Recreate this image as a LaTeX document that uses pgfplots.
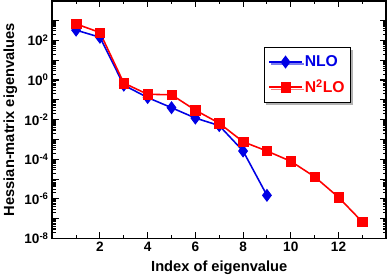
\documentclass[border=0pt]{standalone}
\usepackage{fontspec}
\setmainfont{Liberation Sans}
\usepackage{pgfplots}
\pgfplotsset{compat=1.18}
\usetikzlibrary{shadows}
\begin{document}
\begin{tikzpicture}
\begin{axis}[
  scale only axis,
  width=319pt, height=227pt,
  ymode=log,
  xmin=0, xmax=14, ymin=1e-8, ymax=1e4,
  xtick={2,4,...,12},
  minor xtick={1,3,...,13},
  ytick={1e-8,1e-7,1e-6,1e-5,1e-4,1e-3,1e-2,1e-1,1,1e1,1e2,1e3},
  yticklabels={10\textsuperscript{-8},{},10\textsuperscript{-6},{},10\textsuperscript{-4},{},10\textsuperscript{-2},{},10\textsuperscript{0},{},10\textsuperscript{2},{}},
  tick align=inside,
  xtick pos=both, ytick pos=both,
  xticklabel pos=lower, yticklabel pos=left,
  major tick length=6pt, minor tick length=3.5pt,
  every tick/.style={black, line width=1pt},
  axis line style={line width=1.5pt},
  /pgf/number format/assume math mode=true,
  ticklabel style={font=\fontsize{13}{13}\selectfont\bfseries},
  xlabel={Index of eigenvalue},
  ylabel={Hessian-matrix eigenvalues},
  label style={font=\fontsize{14}{14}\selectfont\bfseries},
  xlabel style={yshift=-2pt},
  legend style={at={(0.633,0.806)}, anchor=north west, draw=black, line width=1pt,
    drop shadow={shadow xshift=2pt, shadow yshift=-2pt, fill=black!60},
    font=\fontsize{15}{15}\selectfont\bfseries, fill=white,
    row sep=7pt, inner xsep=4pt, inner ysep=6pt},
  legend cell align=left,
  legend image code/.code={\draw[mark repeat=2,mark phase=2,#1] plot coordinates {(0cm,0cm) (0.55cm,0cm) (1.1cm,0cm)};},
]
\addplot[blue!90!black, line width=1.5pt, mark=diamond*, mark size=5.5pt, mark options={fill=blue!90!black, line width=1pt}]
coordinates {(1,330) (2,144) (3,0.55) (4,0.13) (5,0.04) (6,0.012) (7,0.005) (8,2.6e-4) (9,1.5e-6)};
\addlegendentry{\textcolor{blue!90!black}{NLO}}
\addplot[red, line width=1.5pt, mark=square*, mark size=4.5pt, mark options={fill=red, line width=0.5pt}]
coordinates {(1,680) (2,250) (3,0.7) (4,0.19) (5,0.18) (6,0.03) (7,0.0066) (8,7.6e-4) (9,2.6e-4) (10,7.9e-5) (11,1.3e-5) (12,1.2e-6) (13,6.8e-8)};
\addlegendentry{\textcolor{red}{N\textsuperscript{2}LO}}
\end{axis}
\end{tikzpicture}
\end{document}
